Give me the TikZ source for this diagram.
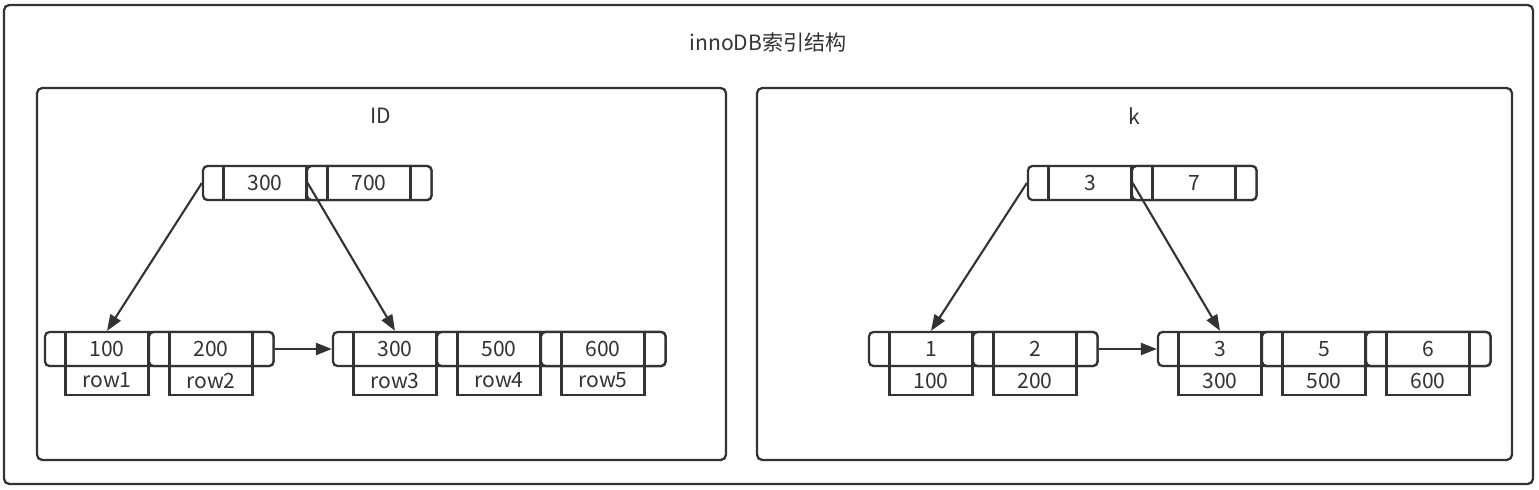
\documentclass[tikz,border=0pt]{standalone}
\usepackage{fontspec}
\setmainfont{Noto Sans CJK SC}
\usetikzlibrary{arrows.meta}
\definecolor{ink}{HTML}{333333}
\tikzset{
  box/.style={draw=ink, line width=1.3pt, rounded corners=3pt},
  page/.style={draw=ink, line width=1.3pt, rounded corners=2.5pt, fill=white, inner sep=0pt, minimum height=0.68cm},
  keycell/.style={draw=ink, line width=1.3pt, inner sep=0pt, minimum width=1.66cm, minimum height=0.68cm, text=ink},
  rowcell/.style={draw=ink, line width=1.3pt, inner sep=0pt, minimum width=1.66cm, minimum height=0.58cm, text=ink},
  link/.style={draw=ink, line width=1.2pt, -{Triangle[length=0.32cm, width=0.24cm]}},
  title/.style={text=ink}
}
\begin{document}
\begin{tikzpicture}[x=0.02cm, y=-0.02cm, font=\fontsize{12pt}{14pt}\selectfont]
  \useasboundingbox (0,0) rectangle (1539,490);

  % frames
  \draw[box, fill=white] (4,5) rectangle (1533,484);
  \draw[box] (37,88) rectangle (726,460);
  \draw[box] (757,88) rectangle (1512,460);
  \node[title] (head) at (768,42) {innoDB索引结构};
  \node[title] (idhead) at (381,116) {ID};
  \node[title] (khead) at (1134,116) {k};

  % ID tree
  \node[page, minimum width=4.57cm] (idroot) at (317.25,183) {};
  \draw[page] (307,166) rectangle (431.5,200);
  \node[keycell] (idr300) at (265,183) {300};
  \node[keycell] (idr700) at (369,183) {700};

  \node[page, minimum width=4.57cm] (idleafa) at (159.25,349) {};
  \draw[page] (149,332) rectangle (273.5,366);
  \node[keycell] (id100) at (107,349) {100};
  \node[keycell] (id200) at (211,349) {200};
  \node[rowcell] (row1) at (107,380.5) {row1};
  \node[rowcell] (row2) at (211,380.5) {row2};

  \node[page, minimum width=6.65cm] (idleafb) at (499.25,349) {};
  \draw[page] (437,332) rectangle (665.5,366);
  \draw[page] (541,332) rectangle (665.5,366);
  \node[keycell] (id300) at (395,349) {300};
  \node[keycell] (id500) at (499,349) {500};
  \node[keycell] (id600) at (603,349) {600};
  \node[rowcell] (row3) at (395,380.5) {row3};
  \node[rowcell] (row4) at (499,380.5) {row4};
  \node[rowcell] (row5) at (603,380.5) {row5};

  \draw[link] (idroot.west) -- (id100.north);
  \draw[link] (idr300.east) -- (id300.north);
  \draw[link] (idleafa.east) -- (idleafb.west);

  % k tree
  \node[page, minimum width=4.57cm] (kroot) at (1142.25,183) {};
  \draw[page] (1132,166) rectangle (1256.5,200);
  \node[keycell] (kr3) at (1090,183) {3};
  \node[keycell] (kr7) at (1194,183) {7};

  \node[page, minimum width=4.57cm] (kleafa) at (983.25,349) {};
  \draw[page] (973,332) rectangle (1097.5,366);
  \node[keycell] (k1) at (931,349) {1};
  \node[keycell] (k2) at (1035,349) {2};
  \node[rowcell] (k1id) at (931,380.5) {100};
  \node[rowcell] (k2id) at (1035,380.5) {200};

  \node[page, minimum width=6.65cm] (kleafb) at (1324.25,349) {};
  \draw[page] (1262,332) rectangle (1490.5,366);
  \draw[page] (1366,332) rectangle (1490.5,366);
  \node[keycell] (k3) at (1220,349) {3};
  \node[keycell] (k5) at (1324,349) {5};
  \node[keycell] (k6) at (1428,349) {6};
  \node[rowcell] (k3id) at (1220,380.5) {300};
  \node[rowcell] (k5id) at (1324,380.5) {500};
  \node[rowcell] (k6id) at (1428,380.5) {600};

  \draw[link] (kroot.west) -- (k1.north);
  \draw[link] (kr3.east) -- (k3.north);
  \draw[link] (kleafa.east) -- (kleafb.west);
\end{tikzpicture}
\end{document}
